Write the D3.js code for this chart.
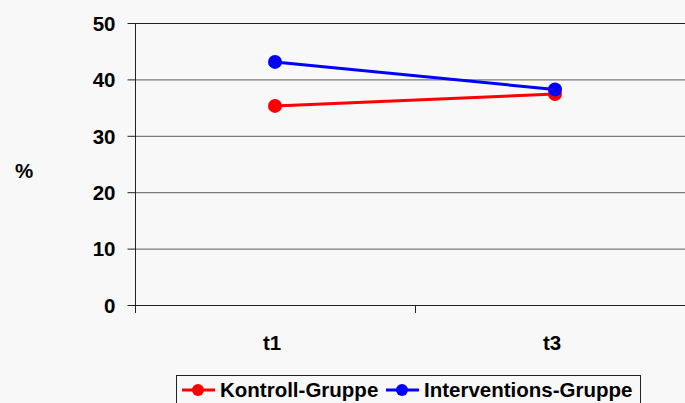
<!DOCTYPE html>
<html><head><meta charset="utf-8">
<script src="https://cdn.jsdelivr.net/npm/d3@7"></script>
<style>
html,body{margin:0;padding:0;background:#f8f8f8;overflow:hidden}
text{font-family:"Liberation Sans",Arial,sans-serif;font-weight:bold;fill:#000}
</style></head>
<body><svg id="c" width="685" height="403"></svg>
<script>
const categories = ["t1","t3"];
const kontroll = [35.3, 37.4];
const intervention = [43.1, 38.2];
const seriesNames = ["Kontroll-Gruppe","Interventions-Gruppe"];
const seriesColors = ["#ff0000","#0000ff"];
const yTicks = [0,10,20,30,40,50];

const svg = d3.select("#c");
const pL = 135, pR = 695, pT = 23, pB = 305;
const x = d3.scaleBand().domain(categories).range([pL, pR]);
const y = d3.scaleLinear().domain([0,50]).range([pB, pT]);

// gridlines
svg.append("g").selectAll("line").data(yTicks.filter(d=>d>0 && d<50)).join("line")
  .attr("x1", pL).attr("x2", pR)
  .attr("y1", d=>y(d)+0.5).attr("y2", d=>y(d)+0.5)
  .attr("stroke","#7a7a7a").attr("stroke-width",1.2);
// top border
svg.append("line").attr("x1",pL).attr("x2",pR).attr("y1",y(50)+0.5).attr("y2",y(50)+0.5)
  .attr("stroke","#222").attr("stroke-width",1.2);

// y axis
const yAxis = svg.append("g").attr("transform",`translate(${pL+0.5},0)`)
  .call(d3.axisLeft(y).tickValues(yTicks).tickSize(8).tickPadding(12).tickSizeOuter(0));
yAxis.select(".domain").remove();
yAxis.selectAll(".tick line").attr("stroke","#222");
yAxis.selectAll(".tick text").style("font-size","20.5px").attr("dy","0.36em");
svg.append("line").attr("x1",pL+0.5).attr("x2",pL+0.5).attr("y1",pT).attr("y2",pB+8)
  .attr("stroke","#222");

// x axis
svg.append("line").attr("x1",pL).attr("x2",pR).attr("y1",pB+0.5).attr("y2",pB+0.5)
  .attr("stroke","#222").attr("stroke-width",1.2);
svg.append("g").selectAll("line").data(categories.slice(1)).join("line")
  .attr("x1",d=>x(d)+0.5).attr("x2",d=>x(d)+0.5).attr("y1",pB).attr("y2",pB+8)
  .attr("stroke","#222");
svg.append("g").selectAll("text").data(categories).join("text")
  .attr("x",d=>x(d)+x.bandwidth()/2-3).attr("y",350)
  .attr("text-anchor","middle").style("font-size","20.5px").text(d=>d);

// y label
svg.append("text").attr("x",24).attr("y",178).attr("text-anchor","middle")
  .style("font-size","20.5px").text("%");

// series
const series = [kontroll, intervention];
const line = d3.line().x((d,i)=>x(categories[i])+x.bandwidth()/2).y(d=>y(d));
series.forEach((vals,si)=>{
  svg.append("path").datum(vals).attr("d",line).attr("fill","none")
    .attr("stroke",seriesColors[si]).attr("stroke-width",3);
  svg.append("g").selectAll("circle").data(vals).join("circle")
    .attr("cx",(d,i)=>x(categories[i])+x.bandwidth()/2).attr("cy",d=>y(d))
    .attr("r",7).attr("fill",seriesColors[si]);
});

// legend
const lg = svg.append("g");
lg.append("rect").attr("x",176.5).attr("y",375.5).attr("width",464).attr("height",40)
  .attr("fill","#f8f8f8").attr("stroke","#222").attr("stroke-width",1);
const legX = [182, 386];
seriesNames.forEach((n,i)=>{
  lg.append("line").attr("x1",legX[i]).attr("x2",legX[i]+33).attr("y1",390).attr("y2",390)
    .attr("stroke",seriesColors[i]).attr("stroke-width",3);
  lg.append("circle").attr("cx",legX[i]+16).attr("cy",390).attr("r",6).attr("fill",seriesColors[i]);
  lg.append("text").attr("x",legX[i]+38).attr("y",397).style("font-size","20.5px").text(n);
});
</script></body></html>
